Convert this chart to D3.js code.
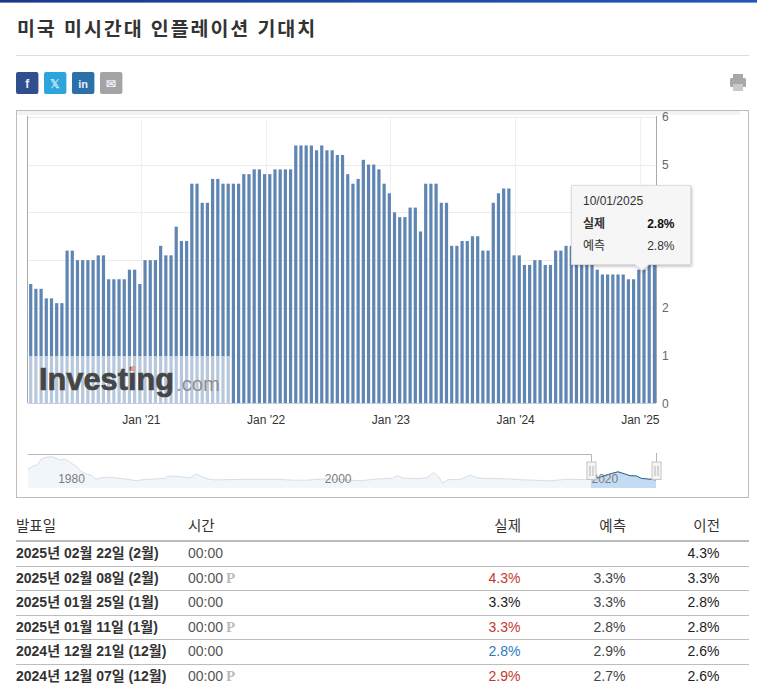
<!DOCTYPE html>
<html lang="ko">
<head>
<meta charset="utf-8">
<title>미국 미시간대 인플레이션 기대치</title>
<script src="https://cdn.jsdelivr.net/npm/d3@7"></script>
<style>
html,body{margin:0;padding:0;background:#fff;overflow:hidden}
svg{display:block}
text{font-family:"Liberation Sans","Noto Sans CJK KR",sans-serif}
</style>
</head>
<body>
<div id="chart"></div>
<script>
const chartTitle = "미국 미시간대 인플레이션 기대치";
const yTicks = [0,1,2,3,4,5,6];
const xTickYears = [2021,2022,2023,2024,2025];
const xTickLabels = ["Jan '21","Jan '22","Jan '23","Jan '24","Jan '25"];
const firstPeriod = 2020.1167;
const periodsPerYear = 24;
const barValues = [
 2.5,2.4,2.4,2.2,2.2,2.1,2.1,3.2,3.2,3.0,3.0,3.0,3.0,3.1,3.1,2.6,2.6,2.6,2.6,2.8,2.8,2.5,
 3.0,3.0,3.0,3.3,3.1,3.1,3.7,3.4,3.4,4.6,4.6,4.2,4.2,4.7,4.7,4.6,4.6,4.6,4.6,4.8,4.8,4.9,4.9,
 4.8,4.8,4.9,4.9,4.9,4.9,5.4,5.4,5.4,5.4,5.3,5.4,5.3,5.3,5.2,5.2,
 4.8,4.6,4.7,5.1,5.0,5.0,4.9,4.6,4.4,4.0,3.9,3.9,4.1,4.1,3.6,4.6,4.6,4.6,4.2,4.2,
 3.3,3.3,3.4,3.4,3.5,3.5,3.2,3.2,4.2,4.4,4.5,4.5,3.1,3.1,2.9,2.9,3.0,3.0,2.9,2.9,
 3.2,3.2,3.3,3.3,3.0,3.0,2.9,2.9,2.8,2.7,2.7,2.7,2.7,2.7,2.6,2.6,2.8,2.8,2.9,3.0
];
const navYears = [1978,1978.4,1978.7,1979,1979.4,1979.9,1980.35,1980.8,1981.15,1981.65,1982,1982.4,1982.8,1983.1,1983.5,1984.15,1984.9,1985.5,1986.15,1986.8,1987.65,1988.3,1988.5,1989.15,1989.65,1990.15,1990.65,1991,1991.4,1992,1993.15,1994.4,1996.65,1997.9,1998.9,2000.15,2001.4,2002.9,2004.15,2005.3,2005.7,2006.15,2007.15,2007.9,2008.4,2008.8,2009.1,2009.5,2010.4,2010.9,2011.2,2011.65,2012.4,2014.15,2014.65,2015.9,2017.15,2018.4,2019.65,2020.25,2020.9,2021.65,2022.25,2022.75,2023.15,2023.65,2024,2024.5,2025.1];
const navValues = [6.3,7.3,7.7,9.7,10.3,10.4,9.4,9.6,8.6,7.1,5.4,4.6,4.1,2.9,3.4,3.6,3.2,2.9,2.4,2.9,3.0,3.3,4.0,3.9,3.6,3.4,4.7,3.8,3.1,2.7,2.8,2.9,2.9,2.6,2.6,3.0,2.9,2.4,3.0,3.2,4.1,3.3,3.1,3.4,5.1,3.8,1.6,2.8,2.8,3.8,4.3,3.4,3.2,3.0,2.8,2.6,2.4,2.9,2.8,2.9,3.6,4.7,5.4,4.7,4.1,4.0,3.2,3.0,2.7];
const navTickYears = [1980,2000,2020];
const navSelection = [2020.22,2025.1];
const tipDate = "10/01/2025";
const tipRows = [["실제","2.8%"],["예측","2.8%"]];
const tableHead = ["발표일","시간","실제","예측","이전"];
const tableDates = ["2025년 02월 22일 (2월)","2025년 02월 08일 (2월)","2025년 01월 25일 (1월)","2025년 01월 11일 (1월)","2024년 12월 21일 (12월)","2024년 12월 07일 (12월)"];
const tableTimes = ["00:00","00:00","00:00","00:00","00:00","00:00"];
const tablePrelim = [false,true,false,true,false,true];
const tableActual = ["","4.3%","3.3%","3.3%","2.8%","2.9%"];
const tableActualTone = ["","up","same","up","down","up"];
const tableForecast = ["","3.3%","3.3%","2.8%","2.9%","2.7%"];
const tablePrevious = ["4.3%","3.3%","2.8%","2.8%","2.6%","2.6%"];
const shareIcons = ["f","𝕏","in","✉"];

const svg = d3.select("#chart").append("svg").attr("width",757).attr("height",697);
const defs = svg.append("defs");
const topGrad = defs.append("linearGradient").attr("id","topbar");
topGrad.append("stop").attr("offset","0").attr("stop-color","#17398a");
topGrad.append("stop").attr("offset","0.5").attr("stop-color","#1d4aa3");
topGrad.append("stop").attr("offset","1").attr("stop-color","#2455b8");
const shadow = defs.append("filter").attr("id","tipShadow").attr("x","-10%").attr("y","-10%").attr("width","125%").attr("height","125%");
shadow.append("feDropShadow").attr("dx",1).attr("dy",1.5).attr("stdDeviation",1.6).attr("flood-color","#000").attr("flood-opacity",0.25);

svg.append("rect").attr("width",757).attr("height",697).attr("fill","#fff");
svg.append("rect").attr("width",757).attr("height",2.6).attr("fill","url(#topbar)");
svg.append("text").attr("x",17).attr("y",36).attr("font-size",19.5).attr("font-weight",700).attr("letter-spacing",1.92)
  .attr("fill","#333").text(chartTitle);
svg.append("line").attr("x1",16).attr("x2",749).attr("y1",55.5).attr("y2",55.5).attr("stroke","#ddd");

const iconColors = ["#2f4f8f","#2ea4dc","#2b70a8","#a4a4a4"];
const icons = svg.append("g").selectAll("g").data(shareIcons).join("g")
  .attr("transform",(d,i)=>`translate(${16+i*28},72)`);
icons.append("rect").attr("width",22.4).attr("height",22).attr("rx",2).attr("fill",(d,i)=>iconColors[i]);
icons.append("text").attr("x",11.2).attr("y",15.5).attr("text-anchor","middle").attr("font-size",(d,i)=>i===2?11:12)
  .attr("font-weight",700).attr("fill",(d,i)=>i===1?"#bfe6f7":"#e8eef6").text(d=>d);

const printer = svg.append("g").attr("fill","#a8a8a8");
printer.append("rect").attr("x",733).attr("y",74).attr("width",10).attr("height",5);
printer.append("rect").attr("x",730).attr("y",78).attr("width",16).attr("height",9).attr("rx",1.5);
printer.append("rect").attr("x",733).attr("y",84).attr("width",10).attr("height",7).attr("fill","#c9c9c9");

// chart frame
svg.append("rect").attr("x",16.5).attr("y",110.5).attr("width",732).attr("height",387).attr("fill","#fff").attr("stroke","#bdbdbd");
svg.append("rect").attr("x",17).attr("y",111).attr("width",723).attr("height",4).attr("fill","#f3f3f3");

const x = d3.scaleLinear().domain([firstPeriod,firstPeriod+(barValues.length-1)/periodsPerYear]).range([30.7,654.4]);
const y = d3.scaleLinear().domain([0,6]).range([403.5,116.8]);

const grid = svg.append("g");
grid.selectAll(".h").data(yTicks.slice(1)).join("line").attr("class","h")
  .attr("x1",28).attr("x2",656).attr("y1",d=>Math.round(y(d))+.5).attr("y2",d=>Math.round(y(d))+.5).attr("stroke","#ececec");
grid.selectAll(".v").data(xTickYears).join("line").attr("class","v")
  .attr("x1",d=>Math.round(x(d))+.5).attr("x2",d=>Math.round(x(d))+.5).attr("y1",y(6)).attr("y2",y(0)).attr("stroke","#f0f0f0");

svg.append("g").selectAll("rect").data(barValues).join("rect")
  .attr("x",(d,i)=>x(firstPeriod+i/periodsPerYear)-1.6).attr("width",3.2)
  .attr("y",d=>y(d)).attr("height",d=>y(0)-y(d)).attr("fill","#5f85b2");

// axes
const xAxis = d3.axisBottom(x).tickValues(xTickYears).tickSize(0).tickPadding(0).tickFormat((d,i)=>xTickLabels[i]);
const xg = svg.append("g").attr("transform","translate(0,415.5)").call(xAxis);
xg.select(".domain").remove();
xg.selectAll("text").attr("font-size",12).attr("fill","#333");
const yAxis = d3.axisRight(y).tickValues(yTicks).tickSize(0).tickPadding(0).tickFormat(d3.format("d"));
const yg = svg.append("g").attr("transform","translate(662,0)").call(yAxis);
yg.select(".domain").remove();
yg.selectAll("text").attr("font-size",12).attr("fill","#666").attr("x",0);
svg.append("line").attr("x1",27.5).attr("x2",27.5).attr("y1",116).attr("y2",403).attr("stroke","#aaa");
svg.append("line").attr("x1",656.5).attr("x2",656.5).attr("y1",116).attr("y2",403).attr("stroke","#aaa");
svg.append("line").attr("x1",28).attr("x2",656).attr("y1",403.5).attr("y2",403.5).attr("stroke","#c0d0e0");

// watermark
const wm = svg.append("g");
wm.append("rect").attr("x",28).attr("y",356).attr("width",202).attr("height",47).attr("fill","#fff").attr("opacity",0.55);
wm.append("text").attr("x",39).attr("y",390).attr("font-size",30.5).attr("font-weight",700).attr("fill","#464646").attr("stroke","#464646").attr("stroke-width",0.7)
  .attr("textLength",135).attr("lengthAdjust","spacingAndGlyphs").text("Investing");
wm.append("text").attr("x",176).attr("y",391).attr("font-size",21).attr("fill","#8f8f8f")
  .attr("textLength",44).attr("lengthAdjust","spacingAndGlyphs").text(".com");
wm.append("circle").attr("cx",133).attr("cy",369).attr("r",2.4).attr("fill","#e8a088");

// navigator
const nx = d3.scaleLinear().domain([1978,2020]).range([28,588]);
const ny = d3.scaleLinear().domain([0,10.4]).range([488,456.8]);
const navData = navYears.map((yr,i)=>[yr,navValues[i]]);
const navArea = d3.area().x(d=>nx(d[0])).y0(ny(0)).y1(d=>ny(d[1]));
const navLine = d3.line().x(d=>nx(d[0])).y(d=>ny(d[1]));
defs.append("clipPath").attr("id","navSel").append("rect")
  .attr("x",nx(navSelection[0])).attr("y",450).attr("width",nx(navSelection[1])-nx(navSelection[0])).attr("height",40);
svg.append("path").datum(navData).attr("d",navArea).attr("fill","#f1f6fb");
svg.append("path").datum(navData).attr("d",navLine).attr("fill","none").attr("stroke","#d8dee5");
svg.append("path").datum(navData).attr("d",navArea).attr("fill","#c4dcf3").attr("clip-path","url(#navSel)");
svg.append("path").datum(navData).attr("d",navLine).attr("fill","none").attr("stroke","#2b5c8a").attr("clip-path","url(#navSel)");
svg.append("g").selectAll("text").data(navTickYears).join("text")
  .attr("x",d=>nx(d)+3.5).attr("y",483).attr("font-size",12).attr("fill","#7d7d7d").text(d=>d);
const sx0 = Math.round(nx(navSelection[0]))+.5, sx1 = Math.round(nx(navSelection[1]))+.5;
svg.append("path").attr("d",`M28,454.5H${sx0}V462M${sx1},453V462`).attr("fill","none").attr("stroke","#b5b5b5");
const handles = svg.append("g").selectAll("g").data([sx0,sx1]).join("g").attr("transform",d=>`translate(${d},0)`);
handles.append("rect").attr("x",-4.5).attr("y",462).attr("width",9).attr("height",17.5).attr("fill","#f4f4f4").attr("stroke","#c4c4c4");
handles.append("path").attr("d","M-1.5,466V476M1.5,466V476").attr("stroke","#b5b5b5").attr("fill","none");

// tooltip
const tip = svg.append("g").attr("filter","url(#tipShadow)");
tip.append("path").attr("d","M571.5,185.5H690.5V264.5H649L642,270.5L635,264.5H571.5Z").attr("fill","#f6f6f6").attr("stroke","#dcdcdc");
svg.append("text").attr("x",583).attr("y",205).attr("font-size",12).attr("fill","#333").text(tipDate);
const tr = svg.append("g").selectAll("g").data(tipRows).join("g").attr("transform",(d,i)=>`translate(0,${228+i*22})`);
tr.append("text").attr("x",583).attr("font-size",12).attr("fill","#333").attr("font-weight",(d,i)=>i===0?700:400).text(d=>d[0]);
tr.append("text").attr("x",674.5).attr("text-anchor","end").attr("font-size",12).attr("fill",(d,i)=>i===0?"#111":"#333").attr("font-weight",(d,i)=>i===0?700:400).text(d=>d[1]);

// table
const rowRules = [566,590,615,639,664];
const rowMid = [553,578,602,627,651,676];
const headX = [16,188,521,626,720];
svg.append("g").selectAll("text").data(tableHead).join("text")
  .attr("x",(d,i)=>headX[i]).attr("y",531).attr("font-size",14.5).attr("fill","#333")
  .attr("text-anchor",(d,i)=>i>1?"end":"start").text(d=>d);
svg.append("rect").attr("x",16).attr("y",540).attr("width",733).attr("height",2).attr("fill","#bbb");
svg.append("g").selectAll("line").data(rowRules).join("line")
  .attr("x1",16).attr("x2",749).attr("y1",d=>d+.5).attr("y2",d=>d+.5).attr("stroke","#bdbdbd");
const rows = svg.append("g").selectAll("g").data(tableDates).join("g")
  .attr("transform",(d,i)=>`translate(0,${rowMid[i]+5})`);
rows.append("text").attr("x",16).attr("font-size",14).attr("font-weight",700).attr("fill","#333").text(d=>d);
rows.append("text").attr("x",188).attr("font-size",14).attr("fill","#555").text((d,i)=>tableTimes[i]);
rows.append("text").attr("x",226).attr("font-size",15).attr("font-weight",700).attr("fill","#bbb")
  .style("font-family","'Liberation Serif',serif").text((d,i)=>tablePrelim[i]?"P":"");
const toneColor = {up:"#c0392b",down:"#2f78c0",same:"#222","":"#222"};
rows.append("text").attr("x",520.5).attr("text-anchor","end").attr("font-size",14).attr("fill",(d,i)=>toneColor[tableActualTone[i]]).text((d,i)=>tableActual[i]);
rows.append("text").attr("x",625.5).attr("text-anchor","end").attr("font-size",14).attr("fill","#444").text((d,i)=>tableForecast[i]);
rows.append("text").attr("x",719.5).attr("text-anchor","end").attr("font-size",14).attr("fill","#222").text((d,i)=>tablePrevious[i]);
</script>
</body>
</html>
